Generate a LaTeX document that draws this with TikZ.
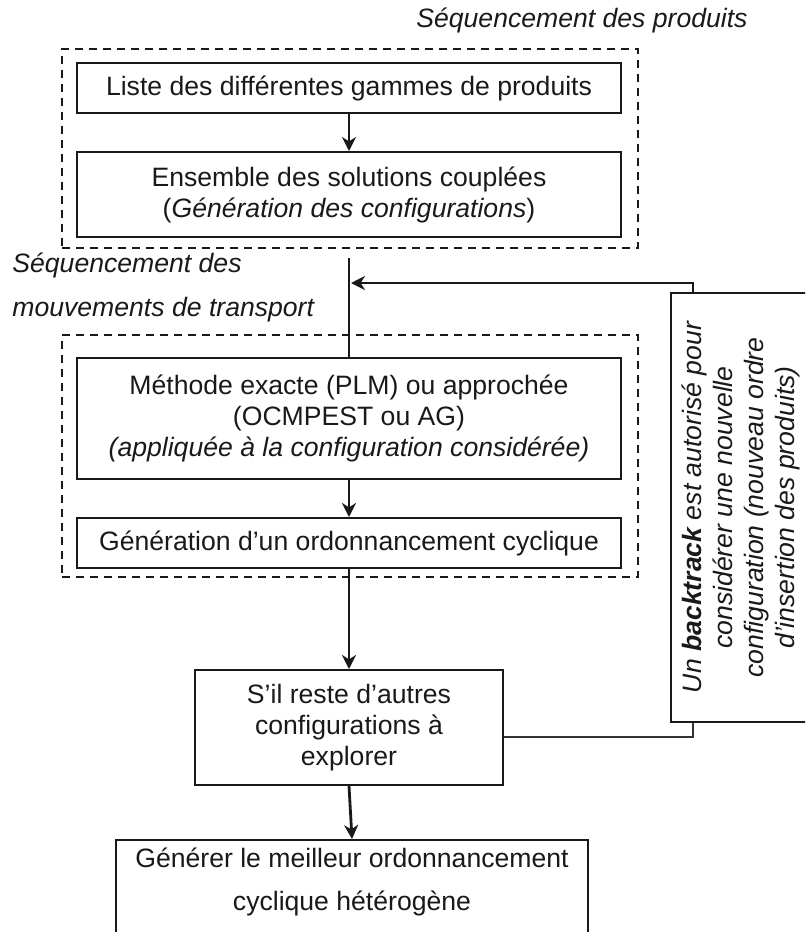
\documentclass[tikz,border=0pt]{standalone}
\usepackage{fontspec}
\setmainfont{Liberation Sans}
\usepackage{tikz}
\usetikzlibrary{arrows.meta,positioning}

\begin{document}
\begin{tikzpicture}[x=0.5pt,y=-0.5pt,>={Stealth[length=7pt,width=7pt,inset=2.2pt]},
  procbox/.style={draw=black!90,line width=1pt,align=center,font=\fontsize{13.3}{15.5}\selectfont,inner sep=2pt,text=black!90},
  groupbox/.style={draw=black!90,dash pattern=on 4pt off 3pt,line width=0.75pt,inner sep=0pt},
  lbl/.style={font=\fontsize{13.3}{15.5}\selectfont\itshape,text=black!90,inner sep=0pt},
  arr/.style={->,line width=1.1pt,draw=black!90}]
\path[use as bounding box,clip] (0,0) rectangle (805,932);
\node[lbl,anchor=east] (seq_prod_t) at (748,20) {Séquencement des produits};
\node[groupbox,minimum width=288pt,minimum height=99.5pt] (seq_prod) at (350,148.5) {};
\node[procbox,minimum width=272pt,minimum height=25pt] (gammes) at (349,88) {Liste des différentes gammes de produits};
\node[procbox,minimum width=272pt,minimum height=42.5pt] (solutions) at (349,194.5) {Ensemble des solutions couplées\\(\textit{Génération des configurations})};
\node[lbl,anchor=west] (seq_mvt_t1) at (12,265) {Séquencement des};
\node[lbl,anchor=west] (seq_mvt_t2) at (12,310) {mouvements de transport};
\node[groupbox,minimum width=288pt,minimum height=121pt] (seq_mvt) at (350,456) {};
\node[procbox,minimum width=272pt,minimum height=60.5pt] (methode) at (349,418.5) {Méthode exacte (PLM) ou approchée\\(OCMPEST ou AG)\\\textit{(appliquée à la configuration considérée)}};
\node[procbox,minimum width=272pt,minimum height=25pt] (ordo) at (349,543) {Génération d’un ordonnancement cyclique};
\node[procbox,minimum width=154pt,minimum height=57.5pt] (reste) at (349,727.5) {S’il reste d’autres\\configurations à\\explorer};
\node[procbox,minimum width=79.5pt,minimum height=214.5pt] (back) at (750.5,507.5) {};
\node[lbl,rotate=90,align=center] (back_txt) at (741,507.5) {Un \textbf{backtrack} est autorisé pour\\considérer une nouvelle\\configuration (nouveau ordre\\d’insertion des produits)};
\node[procbox,anchor=north,minimum width=236pt,minimum height=64pt] (meilleur) at (352,839) {};
\node[lbl,font=\fontsize{13.3}{21.5}\selectfont,align=center] (meilleur_txt) at (352,881.5) {Générer le meilleur ordonnancement\\cyclique hétérogène};
% liaisons
\coordinate (seq_in) at (349,258);
\coordinate (fb_turn) at (693,283);
\coordinate (fb_in) at (351,283);
\coordinate (bk_turn) at (693,737);
\draw[arr] (gammes) -- (solutions);
\draw[line width=1.1pt,draw=black!90] (seq_in) -- (methode.north);
\draw[arr] (methode) -- (ordo);
\draw[arr,line width=1.4pt] (ordo) -- (reste);
\draw[arr,line width=1.4pt] (reste.south) -- (meilleur.north);
\draw[arr,line width=1pt] (fb_turn |- back.north) -- (fb_turn) -- (fb_in);
\draw[line width=0.6pt,draw=black!80] (reste.east |- bk_turn) -- (bk_turn) -- (back.south -| bk_turn);
\end{tikzpicture}
\end{document}
